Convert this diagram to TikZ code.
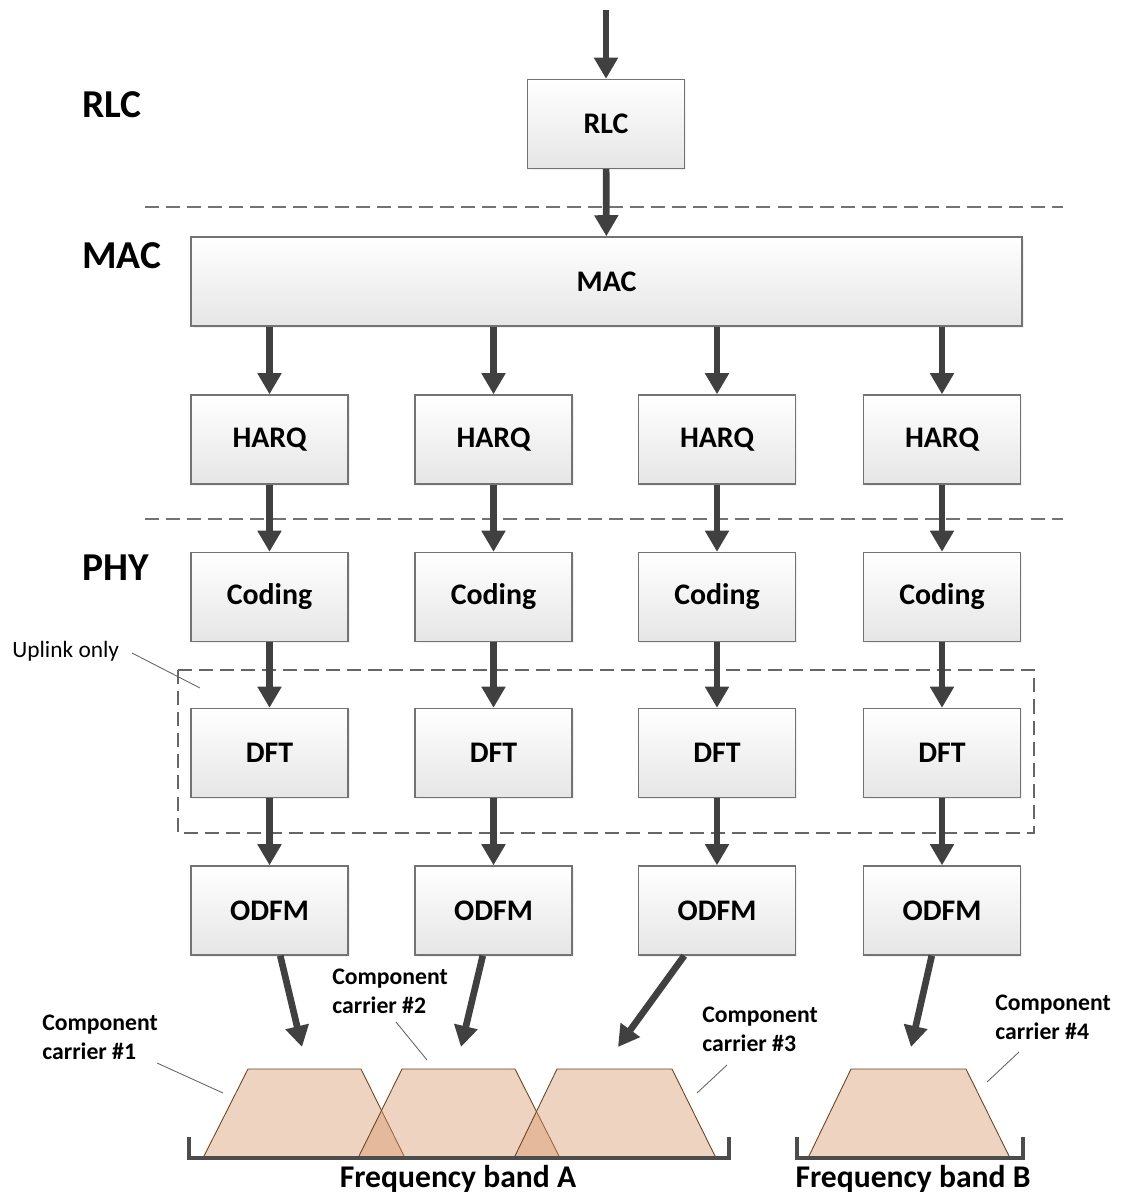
\documentclass[tikz,border=0pt]{standalone}
\usepackage{fontspec}
\setmainfont{Carlito}
\usetikzlibrary{arrows.meta,shadows}

\definecolor{carrier}{RGB}{215,150,105}
\tikzset{
  blk/.style={draw=black!55, line width=0.8pt, top color=white, bottom color=black!10,
    minimum width=3.14cm, minimum height=1.78cm, inner sep=0pt,
    font=\fontsize{17}{19}\selectfont\bfseries,
    drop shadow={opacity=0.12, shadow xshift=1pt, shadow yshift=-1pt}},
  flow/.style={line width=3.8pt, draw=black!75, -{Triangle[length=12pt,width=13pt]}},
  sep/.style={dash pattern=on 8pt off 4pt, line width=1.1pt, draw=black!55},
  lead/.style={draw=black!60, line width=0.5pt},
  band/.style={draw=black!70, line width=2.3pt},
  trap/.style={draw=black!45!brown, line width=0.5pt, fill=carrier, fill opacity=0.42},
  lay/.style={anchor=base west, inner sep=0pt, font=\fontsize{22.5}{25}\selectfont\bfseries},
  cclab/.style={anchor=north west, inner sep=0pt, align=left,
    font=\fontsize{13.5}{16.5}\selectfont\bfseries},
}

\begin{document}
\begin{tikzpicture}[x=0.02cm,y=-0.02cm]
\useasboundingbox (0,0) rectangle (1124,1193);

% layer names
\node[lay] (lrlc) at (82,117) {RLC};
\node[lay] (lmac) at (82,268) {MAC};
\node[lay] (lphy) at (82,580) {PHY};

% layer borders
\draw[sep] (145,207) -- (1063,207);
\draw[sep] (145,519) -- (1063,519);
\draw[dash pattern=on 8pt off 4pt, line width=1pt, draw=black!60]
  (178,670) rectangle (1034,833);
\node[anchor=base west, inner sep=0pt, font=\fontsize{13.3}{15}\selectfont] (upl) at (12,657) {Uplink only};
\coordinate (uplend) at (200,688);
\draw[lead] (132,653) -- (uplend);

% blocks
\coordinate (top) at (606,10);
\node[blk] (rlc) at (606,124) {RLC};
\node[blk, minimum width=16.62cm] (mac) at (606.5,281.5) {MAC};
\draw[flow] (top) -- (rlc);
\draw[flow] (rlc) -- (mac);

\foreach \i/\x in {1/269.5,2/493.5,3/717,4/942} {
  \node[blk] (h\i) at (\x,439.5) {HARQ};
  \node[blk] (c\i) at (\x,597) {Coding};
  \node[blk] (d\i) at (\x,753) {DFT};
  \node[blk] (o\i) at (\x,910.5) {ODFM};
  \draw[flow] (mac.south -| h\i) -- (h\i);
  \draw[flow] (h\i) -- (c\i);
  \draw[flow] (c\i) -- (d\i);
  \draw[flow] (d\i) -- (o\i);
}

% carriers
\draw[trap] (203,1158) -- (248,1069) -- (361,1069) -- (405,1158) -- cycle;
\draw[trap] (358,1158) -- (402,1069) -- (515,1069) -- (560,1158) -- cycle;
\draw[trap] (514,1158) -- (557,1069) -- (672,1069) -- (716,1158) -- cycle;
\draw[trap] (808,1158) -- (851,1069) -- (966,1069) -- (1010,1158) -- cycle;

\draw[band] (189,1137) -- (189,1158) -- (729,1158) -- (729,1137);
\draw[band] (797,1137) -- (797,1158) -- (1023,1158) -- (1023,1137);
\node[anchor=base, inner sep=0pt, font=\fontsize{18}{20}\selectfont\bfseries] (fa) at (458,1187) {Frequency band A};
\node[anchor=base, inner sep=0pt, font=\fontsize{18}{20}\selectfont\bfseries] (fb) at (913,1187) {Frequency band B};

\coordinate (t1) at (302,1047);
\coordinate (t2) at (461,1047);
\coordinate (t3) at (618,1047);
\coordinate (t4) at (911,1047);
\foreach \i in {1,...,4}
  \draw[flow] (o\i) -- (t\i);

% carrier labels
\node[cclab] (cc1) at (42,1015) {Component\\carrier \#1};
\node[cclab] (cc2) at (332,969) {Component\\carrier \#2};
\node[cclab] (cc3) at (702,1007) {Component\\carrier \#3};
\node[cclab] (cc4) at (995,995) {Component\\carrier \#4};
\coordinate (e1) at (223,1093);
\coordinate (e2) at (427,1060);
\coordinate (e3) at (697,1093);
\coordinate (e4) at (987,1082);
\draw[lead] (157,1063) -- (e1);
\draw[lead] (396,1022) -- (e2);
\draw[lead] (727,1065) -- (e3);
\draw[lead] (1019,1052) -- (e4);
\end{tikzpicture}
\end{document}
